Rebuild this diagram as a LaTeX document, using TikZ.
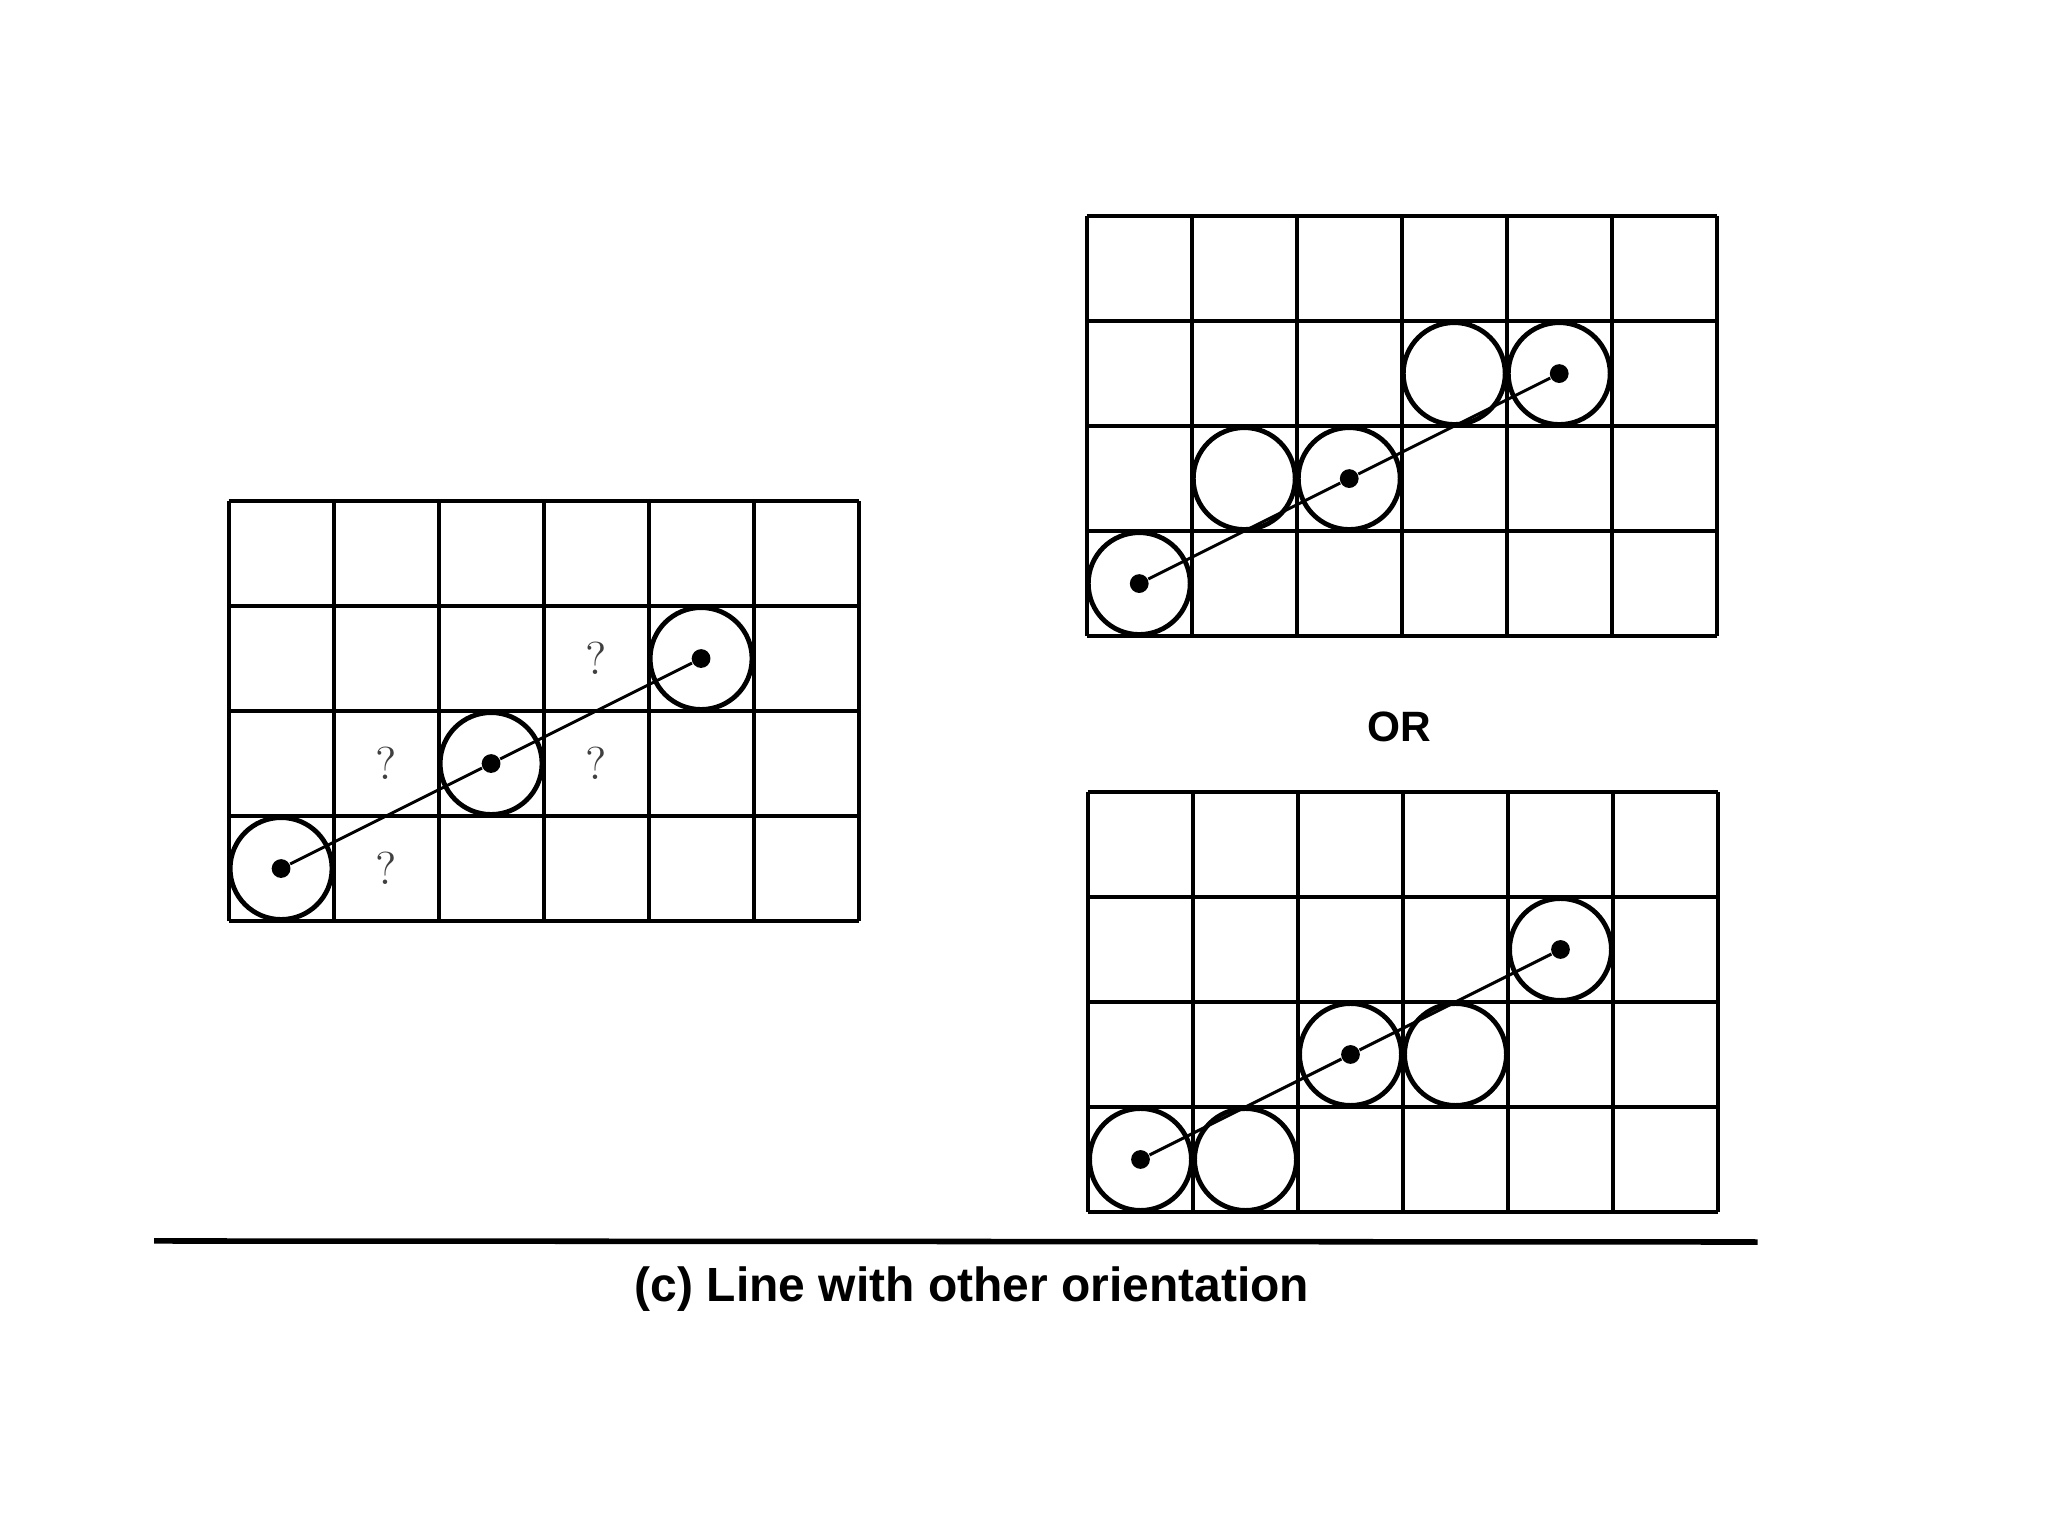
\documentclass[tikz,border=0pt]{standalone}
\usepackage{fontspec}
\setsansfont{Liberation Sans}
\usepackage{tikz}
\tikzset{
    Pixel/.style = {draw,circle,line width=1.3pt,minimum size=0.97cm,inner sep=0pt},
    Dot/.style = {fill,circle,inner sep=1.8pt},
    Grid/.style = {line width=1.1pt},
    Query/.style = {text=black!75,font=\fontsize{12.5}{12.5}\selectfont},
    Label/.style = {font=\sffamily\bfseries\fontsize{11.5}{13}\selectfont}
}

\begin{document}
\begin{tikzpicture}
    \useasboundingbox (0,0) rectangle (19.505,14.629);
    % which pixels to pick?
    \begin{scope}[shift={(2.177,5.857)}]
        \draw[Grid] (0,0) grid (6,4);
        \foreach \X/\Y [count=\i] in {0/0,2/1,4/2}
            {\node[Pixel] at (\X+0.5,\Y+0.5) {};
             \node[Dot] (a\i) at (\X+0.5,\Y+0.5) {};}
        \draw[line width=0.8pt] (a1) -- (a2) -- (a3);
        \foreach \X/\Y in {1/0,1/1,3/1,3/2}
            {\node[Query] at (\X+0.5,\Y+0.5) {?};}
    \end{scope}
    % first choice
    \begin{scope}[shift={(10.35,8.571)}]
        \draw[Grid] (0,0) grid (6,4);
        \foreach \X/\Y in {0/0,1/1,2/1,3/2,4/2}
            {\node[Pixel] at (\X+0.5,\Y+0.5) {};}
        \foreach \X/\Y [count=\i] in {0/0,2/1,4/2}
            {\node[Dot] (b\i) at (\X+0.5,\Y+0.5) {};}
        \draw[line width=0.8pt] (b1) -- (b2) -- (b3);
    \end{scope}
    \node[Label] (or) at (13.33,7.71) {OR};
    % second choice
    \begin{scope}[shift={(10.362,3.086)}]
        \draw[Grid] (0,0) grid (6,4);
        \foreach \X/\Y in {0/0,1/0,2/1,3/1,4/2}
            {\node[Pixel] at (\X+0.5,\Y+0.5) {};}
        \foreach \X/\Y [count=\i] in {0/0,2/1,4/2}
            {\node[Dot] (c\i) at (\X+0.5,\Y+0.5) {};}
        \draw[line width=0.8pt] (c1) -- (c2) -- (c3);
    \end{scope}
    % caption
    \draw[line width=1.5pt] (1.467,2.81) -- (16.74,2.80);
    \node[Label,font=\sffamily\bfseries\fontsize{13}{15}\selectfont] (cap) at (9.257,2.35) {(c) Line with other orientation};
\end{tikzpicture}
\end{document}
